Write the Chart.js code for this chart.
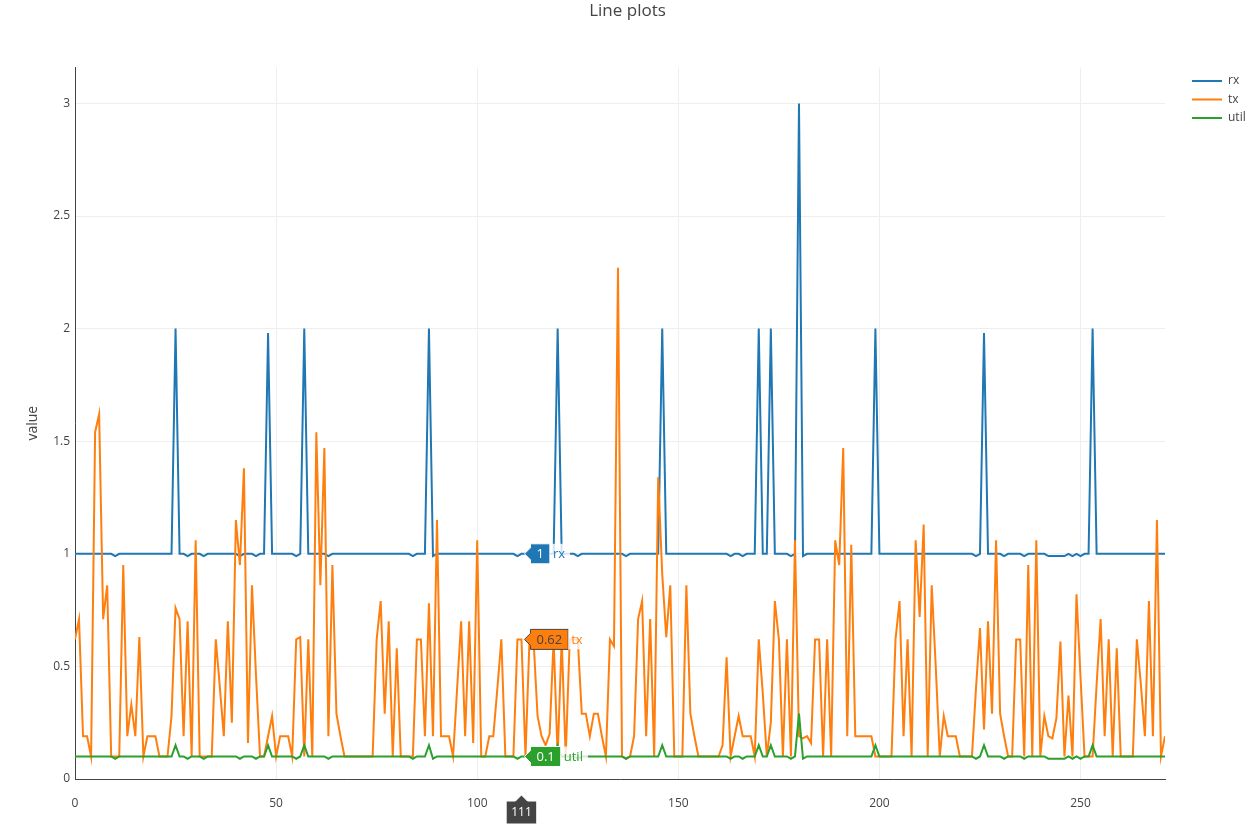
<!DOCTYPE html>
<html lang="en">
<head>
  <meta charset="UTF-8">
  <title>Line plots</title>
  <script src="https://cdn.jsdelivr.net/npm/chart.js"></script>
  <style>
    html, body { margin: 0; padding: 0; background: #fff; }
    #wrap { position: relative; width: 1255px; height: 824px; }
  </style>
</head>
<body>
  <div id="wrap">
    <canvas id="lineChart"></canvas>
  </div>

  <script>
    // series, one value per sample index 0..271
    const rx = [
      1,1,1,1,1,1,1,1,1,1,
      0.99,1,1,1,1,1,1,1,1,1,
      1,1,1,1,1,2,1,1,0.99,1,
      1,1,0.99,1,1,1,1,1,1,1,
      1,0.99,1,1,1,0.99,1,1,1.98,1,
      1,1,1,1,1,0.99,1,2,1,1,
      1,1,1,0.99,1,1,1,1,1,1,
      1,1,1,1,1,1,1,1,1,1,
      1,1,1,1,0.99,1,1,1,2,0.99,
      1,1,1,1,1,1,1,1,1,1,
      1,1,1,1,1,1,1,1,1,1,
      0.99,1,1,1,1,1,1,1,1,1,
      2,1,1,1,1,0.99,1,1,1,1,
      1,1,1,1,1,1,1,0.99,1,1,
      1,1,1,1,1,1,2,1,1,1,
      1,1,1,1,1,1,1,1,1,1,
      1,1,1,0.99,1,1,0.99,1,1,1,
      2,1,1,2,1,1,1,1,0.99,1,
      3,0.99,1,1,1,1,1,1,1,1,
      1,1,1,1,1,1,1,1,1,2,
      1,1,1,1,1,1,1,1,1,1,
      1,1,1,1,1,1,1,1,1,1,
      1,1,1,1,0.99,1,1.98,1,1,1,
      1,0.99,1,1,1,1,0.99,1,1,1,
      1,1,0.99,0.99,0.99,0.99,0.99,1,0.99,1,
      0.99,1,1,2,1,1,1,1,1,1,
      1,1,1,1,1,1,1,1,1,1,
      1,1
    ];
    const tx = [
      0.62,0.71,0.19,0.19,0.1,1.54,1.62,0.71,0.86,0.1,
      0.1,0.1,0.95,0.19,0.33,0.19,0.63,0.1,0.19,0.19,
      0.19,0.1,0.1,0.1,0.28,0.76,0.71,0.19,0.7,0.1,
      1.06,0.1,0.1,0.1,0.1,0.62,0.41,0.19,0.7,0.25,
      1.15,0.95,1.38,0.16,0.86,0.46,0.1,0.1,0.19,0.28,
      0.1,0.19,0.19,0.19,0.1,0.62,0.63,0.1,0.62,0.1,
      1.54,0.86,1.47,0.19,0.95,0.29,0.19,0.1,0.1,0.1,
      0.1,0.1,0.1,0.1,0.1,0.62,0.79,0.29,0.7,0.1,
      0.58,0.1,0.1,0.1,0.1,0.62,0.62,0.19,0.78,0.19,
      1.15,0.19,0.19,0.19,0.1,0.4,0.7,0.19,0.7,0.16,
      1.06,0.1,0.1,0.19,0.19,0.4,0.62,0.1,0.1,0.1,
      0.62,0.62,0.1,0.62,0.62,0.28,0.19,0.15,0.2,0.62,
      0.1,0.62,0.1,0.62,0.62,0.62,0.29,0.29,0.19,0.29,
      0.29,0.19,0.1,0.62,0.59,2.27,0.1,0.09,0.1,0.19,
      0.71,0.79,0.19,0.71,0.1,1.34,0.91,0.63,0.86,0.1,
      0.1,0.1,0.86,0.29,0.19,0.1,0.1,0.1,0.1,0.1,
      0.1,0.15,0.54,0.1,0.19,0.28,0.19,0.19,0.19,0.1,
      0.62,0.38,0.1,0.25,0.79,0.62,0.1,0.62,0.1,1.06,
      0.19,0.18,0.19,0.16,0.62,0.62,0.1,0.62,0.1,1.06,
      0.95,1.47,0.19,1.04,0.19,0.19,0.19,0.19,0.19,0.1,
      0.1,0.1,0.1,0.1,0.62,0.79,0.19,0.62,0.1,1.06,
      0.72,1.13,0.1,0.86,0.5,0.1,0.28,0.19,0.19,0.19,
      0.1,0.1,0.1,0.1,0.4,0.67,0.22,0.7,0.29,1.06,
      0.29,0.19,0.1,0.1,0.62,0.62,0.1,0.95,0.1,1.06,
      0.1,0.28,0.19,0.18,0.27,0.61,0.1,0.37,0.1,0.82,
      0.45,0.1,0.1,0.1,0.42,0.71,0.19,0.62,0.1,0.58,
      0.1,0.1,0.1,0.1,0.62,0.42,0.19,0.79,0.19,1.15,
      0.1,0.19
    ];
    const util = [
      0.1,0.1,0.1,0.1,0.1,0.1,0.1,0.1,0.1,0.1,
      0.09,0.1,0.1,0.1,0.1,0.1,0.1,0.1,0.1,0.1,
      0.1,0.1,0.1,0.1,0.1,0.15,0.1,0.1,0.09,0.1,
      0.1,0.1,0.09,0.1,0.1,0.1,0.1,0.1,0.1,0.1,
      0.1,0.09,0.1,0.1,0.1,0.09,0.1,0.1,0.15,0.1,
      0.1,0.1,0.1,0.1,0.1,0.09,0.1,0.15,0.1,0.1,
      0.1,0.1,0.1,0.09,0.1,0.1,0.1,0.1,0.1,0.1,
      0.1,0.1,0.1,0.1,0.1,0.1,0.1,0.1,0.1,0.1,
      0.1,0.1,0.1,0.1,0.09,0.1,0.1,0.1,0.15,0.09,
      0.1,0.1,0.1,0.1,0.1,0.1,0.1,0.1,0.1,0.1,
      0.1,0.1,0.1,0.1,0.1,0.1,0.1,0.1,0.1,0.1,
      0.09,0.1,0.1,0.1,0.1,0.1,0.1,0.1,0.1,0.1,
      0.15,0.1,0.1,0.1,0.1,0.09,0.1,0.1,0.1,0.1,
      0.1,0.1,0.1,0.1,0.1,0.1,0.1,0.09,0.1,0.1,
      0.1,0.1,0.1,0.1,0.1,0.1,0.15,0.1,0.1,0.1,
      0.1,0.1,0.1,0.1,0.1,0.1,0.1,0.1,0.1,0.1,
      0.1,0.1,0.1,0.09,0.1,0.1,0.09,0.1,0.1,0.1,
      0.15,0.1,0.1,0.15,0.1,0.1,0.1,0.1,0.09,0.1,
      0.29,0.09,0.1,0.1,0.1,0.1,0.1,0.1,0.1,0.1,
      0.1,0.1,0.1,0.1,0.1,0.1,0.1,0.1,0.1,0.15,
      0.1,0.1,0.1,0.1,0.1,0.1,0.1,0.1,0.1,0.1,
      0.1,0.1,0.1,0.1,0.1,0.1,0.1,0.1,0.1,0.1,
      0.1,0.1,0.1,0.1,0.09,0.1,0.15,0.1,0.1,0.1,
      0.1,0.09,0.1,0.1,0.1,0.1,0.09,0.1,0.1,0.1,
      0.1,0.1,0.09,0.09,0.09,0.09,0.09,0.1,0.09,0.1,
      0.09,0.1,0.1,0.15,0.1,0.1,0.1,0.1,0.1,0.1,
      0.1,0.1,0.1,0.1,0.1,0.1,0.1,0.1,0.1,0.1,
      0.1,0.1
    ];
    const seriesNames = ['rx', 'tx', 'util'];
    const seriesColors = ['#1f77b4', '#ff7f0e', '#2ca02c'];
    const xTicks = [0, 50, 100, 150, 200, 250];
    const yTicks = [0, 0.5, 1, 1.5, 2, 2.5, 3];
    const hoverIndex = 111;

    const toPoints = arr => arr.map((v, i) => ({ x: i, y: v }));
    const FONT = '"Open Sans", verdana, arial, sans-serif';
    const TEXT = '#444';

    // legend on the right, drawn like plotly's
    const sideLegend = {
      id: 'sideLegend',
      afterDraw(chart) {
        const ctx = chart.ctx;
        ctx.save();
        ctx.font = '12px ' + FONT;
        ctx.textBaseline = 'middle';
        chart.data.datasets.forEach((ds, i) => {
          const y = 81 + i * 18.5;
          ctx.strokeStyle = ds.borderColor;
          ctx.lineWidth = 2;
          ctx.beginPath();
          ctx.moveTo(1192, y);
          ctx.lineTo(1222, y);
          ctx.stroke();
          ctx.fillStyle = TEXT;
          ctx.fillText(ds.label, 1228, y);
        });
        ctx.restore();
      }
    };

    // hover labels at one sample, like the screenshot
    const hoverLabels = {
      id: 'hoverLabels',
      afterDraw(chart) {
        const ctx = chart.ctx;
        ctx.save();
        ctx.font = '13px ' + FONT;
        ctx.textBaseline = 'middle';
        let px = 0;
        chart.data.datasets.forEach((ds, i) => {
          const pt = chart.getDatasetMeta(i).data[hoverIndex];
          px = pt.x;
          const x = pt.x + 3, y = pt.y;
          const val = String(ds.data[hoverIndex].y);
          const w = ctx.measureText(val).width + 12;
          const dark = i === 1;
          ctx.beginPath();
          ctx.moveTo(x, y);
          ctx.lineTo(x + 6, y - 6);
          ctx.lineTo(x + 6, y - 10);
          ctx.lineTo(x + 6 + w, y - 10);
          ctx.lineTo(x + 6 + w, y + 10);
          ctx.lineTo(x + 6, y + 10);
          ctx.lineTo(x + 6, y + 6);
          ctx.closePath();
          ctx.fillStyle = ds.borderColor;
          ctx.fill();
          ctx.lineWidth = 1;
          ctx.strokeStyle = dark ? TEXT : '#fff';
          ctx.stroke();
          ctx.fillStyle = dark ? TEXT : '#fff';
          ctx.fillText(val, x + 12, y + 0.5);
          const nx = x + 6 + w;
          const nw = ctx.measureText(ds.label).width + 8;
          ctx.fillStyle = 'rgba(255,255,255,0.8)';
          ctx.fillRect(nx, y - 10, nw, 20);
          ctx.fillStyle = ds.borderColor;
          ctx.fillText(ds.label, nx + 3, y + 0.5);
        });
        // x value label under the axis
        const bottom = chart.chartArea.bottom;
        const lbl = String(hoverIndex);
        ctx.font = '12px ' + FONT;
        const w = ctx.measureText(lbl).width + 10;
        ctx.beginPath();
        ctx.moveTo(px, bottom + 16);
        ctx.lineTo(px + 6, bottom + 22);
        ctx.lineTo(px + w / 2, bottom + 22);
        ctx.lineTo(px + w / 2, bottom + 45);
        ctx.lineTo(px - w / 2, bottom + 45);
        ctx.lineTo(px - w / 2, bottom + 22);
        ctx.lineTo(px - 6, bottom + 22);
        ctx.closePath();
        ctx.fillStyle = TEXT;
        ctx.fill();
        ctx.strokeStyle = '#fff';
        ctx.stroke();
        ctx.fillStyle = '#fff';
        ctx.textAlign = 'center';
        ctx.fillText(lbl, px, bottom + 34);
        ctx.restore();
      }
    };

    new Chart(document.getElementById('lineChart').getContext('2d'), {
      type: 'line',
      data: {
        datasets: [
          { label: seriesNames[0], data: toPoints(rx), borderColor: seriesColors[0], backgroundColor: seriesColors[0], order: 3 },
          { label: seriesNames[1], data: toPoints(tx), borderColor: seriesColors[1], backgroundColor: seriesColors[1], order: 2 },
          { label: seriesNames[2], data: toPoints(util), borderColor: seriesColors[2], backgroundColor: seriesColors[2], order: 1 }
        ]
      },
      options: {
        responsive: true,
        maintainAspectRatio: false,
        animation: false,
        events: [],
        elements: {
          line: { borderWidth: 2, tension: 0 },
          point: { radius: 0 }
        },
        layout: { padding: 0 },
        plugins: {
          legend: { display: false },
          tooltip: { enabled: false },
          title: {
            display: true,
            text: 'Line plots',
            color: TEXT,
            font: { family: FONT, size: 17, weight: 'normal' },
            padding: { top: 1, bottom: 46 }
          }
        },
        scales: {
          x: {
            type: 'linear',
            min: 0,
            max: 271,
            afterBuildTicks: scale => { scale.ticks = xTicks.map(v => ({ value: v })); },
            afterFit: scale => { scale.height = 45; },
            grid: { color: '#eee', drawTicks: false },
            border: { color: TEXT, width: 1 },
            ticks: { color: TEXT, font: { family: FONT, size: 12 }, padding: 17, maxRotation: 0, callback: v => String(v) }
          },
          y: {
            min: 0,
            max: 3.16,
            afterBuildTicks: scale => { scale.ticks = yTicks.map(v => ({ value: v })); },
            afterFit: scale => { scale.width = 75; },
            grid: { color: '#eee', drawTicks: false },
            border: { color: TEXT, width: 1 },
            ticks: { color: TEXT, font: { family: FONT, size: 12 }, padding: 5, callback: v => String(v) },
            title: { display: true, text: 'value', color: TEXT, font: { family: FONT, size: 14 }, padding: { top: 25, bottom: 0 } }
          },
          // empty right-hand axis that keeps room for the legend
          legendSpace: {
            position: 'right',
            grid: { display: false },
            ticks: { display: false },
            border: { display: false },
            afterFit: scale => { scale.width = 90; }
          }
        }
      },
      plugins: [sideLegend, hoverLabels]
    });
  </script>
</body>
</html>
